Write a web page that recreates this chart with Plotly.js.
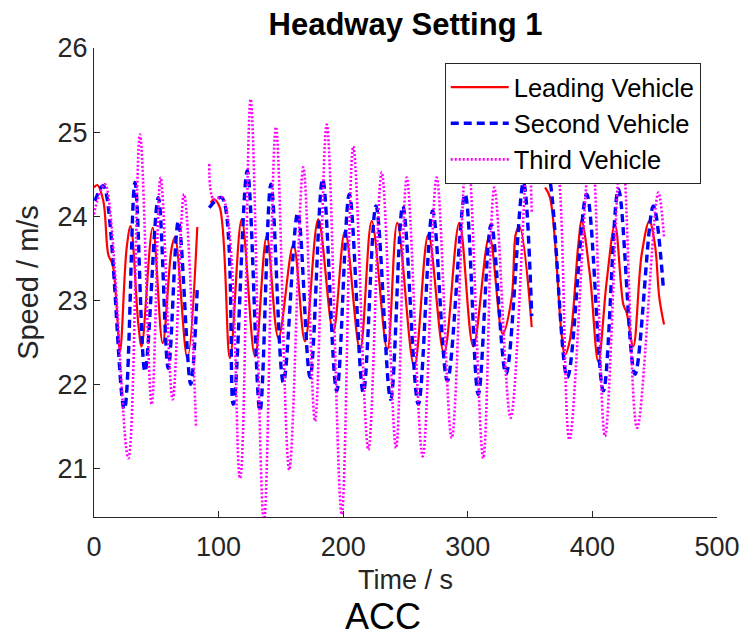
<!DOCTYPE html>
<html>
<head>
<meta charset="utf-8">
<script src="https://cdn.plot.ly/plotly-3.0.1.min.js"></script>
<style>html,body{margin:0;padding:0;background:#fff;}#chart{width:741px;height:637px;}</style>
</head>
<body>
<div id="chart"></div>
<script>
// ---- Data (time in s, speed in m/s); null = gap in recording ----
const timeLead = [0, 2.7, 7.5, 11.5, 15, 17.7, 20.9, 26.2, 29.4, 35.6, 38.2, 47.1, 55.1, 62.3, 65, 74.9, 82.9,
  null,
  93.6, 96.3, 101, 109.1, 118.5, 129.2, 138.6, 148, 160, 169.3, 180, 192, 201.4, 213.5, 222.9, 235.4, 243.4, 257, 268.3, 280.9, 293.2, 304.4, 317.3, 328, 335.2, 338.7, 341.5, 351.3,
  null,
  362, 366, 375.3, 378, 382, 388.7, 391.4, 398, 404.7, 411.5, 418.1, 424.8, 427.5, 432.8, 439.5, 445.7, 450.2, 453.7, 457.5];
const speedLead = [24.34, 24.37, 24.18, 23.54, 23.42, 23.03, 22.39, 23.62, 23.88, 22.71, 22.45, 23.86, 22.49, 23.62, 23.75, 22.31, 23.87,
  null,
  24.16, 24.2, 24.1, 22.31, 23.96, 22.33, 23.76, 22.55, 23.66, 22.51, 23.96, 22.63, 23.82, 22.41, 23.94, 22.41, 23.92, 22.21, 23.78, 22.37, 23.92, 22.45, 23.76, 22.6, 23.03, 23.8, 23.87, 22.68,
  null,
  24.34, 24.22, 22.59, 22.35, 22.53, 23.66, 23.94, 23.3, 22.27, 23.23, 23.9, 22.95, 22.85, 22.45, 23.54, 23.94, 23.66, 23.03, 22.71];

const timeSecond = [0.8, 7.5, 24.3, 32.9, 40.9, 51.6, 59.6, 67.7, 77.6, 82.9,
  null,
  92.5, 102.5, 111.8, 123, 133.2, 142, 152, 163.5, 173.4, 183.5, 194.8, 204.9, 216.1, 226.3, 238.1, 247.8, 260.3, 271.8, 283.6, 297.8, 308.4, 318.8, 330.7, 344.6, 351.3,
  null,
  362, 364.5, 379.9, 395.4, 408.8, 420.9, 434.2, 448.9, 456.9];
const speedSecond = [24.18, 24.36, 21.7, 24.4, 22.15, 24.22, 22.19, 23.94, 22.0, 23.15,
  null,
  24.1, 24.22, 21.76, 24.54, 21.68, 24.38, 22.02, 24.04, 22.08, 24.44, 21.92, 24.26, 21.9, 24.12, 21.82, 24.12, 21.76, 24.06, 22.04, 24.26, 21.88, 23.9, 22.12, 24.4, 22.81,
  null,
  24.44, 24.48, 22.08, 24.26, 21.92, 24.32, 22.12, 24.12, 23.15];

const timeThird = [0, 3, 8.8, 27.5, 36.9, 46.3, 53.5, 63.1, 72.2, 81.9,
  null,
  92.5, 96, 103, 117.2, 125.7, 136.4, 146, 156.7, 168, 177.4, 186.8, 198.8, 208.1, 220.2, 230.9, 242.4, 251, 263.8, 275, 287.1, 299.5, 312.4, 321.3, 334.4, 348.5, 351.3,
  null,
  362, 367, 372.6, 381.6, 399, 410.1, 423.5, 435.9, 452.9, 457.5];
const speedThird = [24.02, 24.2, 24.38, 21.12, 24.97, 21.76, 24.46, 21.82, 24.26, 21.48,
  null,
  24.62, 24.2, 24.22, 20.88, 25.39, 20.35, 25.06, 20.98, 24.58, 21.56, 25.09, 20.45, 24.83, 21.22, 24.52, 21.24, 24.46, 21.14, 24.46, 21.36, 24.85, 21.12, 24.34, 21.6, 24.85, 24.04,
  null,
  24.7, 24.9, 24.55, 21.34, 24.9, 21.38, 24.9, 21.48, 24.28, 23.74];

const seriesNames = ['Leading Vehicle', 'Second Vehicle', 'Third Vehicle'];
const xTicks = [0, 100, 200, 300, 400, 500];
const yTicks = [21, 22, 23, 24, 25, 26];
const chartTitle = 'Headway Setting 1';
const xTitle = 'Time / s';
const yTitle = 'Speed / m/s';
const captionText = 'ACC';

// ---- Plot ----
const FONT = 'Liberation Sans, Arial, sans-serif';
const axisCol = '#262626';

const traces = [
  {x: timeLead, y: speedLead, name: seriesNames[0], mode: 'lines', connectgaps: false,
   line: {color: '#ff0000', width: 2.2, shape: 'spline', smoothing: 1}},
  {x: timeSecond, y: speedSecond, name: seriesNames[1], mode: 'lines', connectgaps: false,
   line: {color: '#0000ff', width: 3.4, dash: '8px,5px', shape: 'spline', smoothing: 1}},
  {x: timeThird, y: speedThird, name: seriesNames[2], mode: 'lines', connectgaps: false,
   line: {color: '#ff00ff', width: 2.6, dash: '2px,2px', shape: 'spline', smoothing: 1}}
];

const layout = {
  width: 741, height: 637,
  margin: {l: 94, r: 24, t: 48, b: 120, pad: 0},
  paper_bgcolor: '#fff', plot_bgcolor: '#fff',
  font: {family: FONT, color: axisCol},
  showlegend: true,
  title: {text: '<b>' + chartTitle + '</b>', font: {family: FONT, size: 31, color: '#000'},
          x: 0.5, xref: 'paper', xanchor: 'center', y: 1 - 24 / 637, yref: 'container', yanchor: 'middle'},
  xaxis: {range: [0, 500], tickvals: xTicks, ticktext: xTicks.map(String), ticks: 'inside', ticklen: 6,
          tickcolor: axisCol, tickwidth: 1, showline: true, linecolor: axisCol, linewidth: 1, mirror: false,
          showgrid: false, zeroline: false, tickfont: {family: FONT, size: 27, color: axisCol},
          ticklabelstandoff: 6,
          title: {text: xTitle, font: {family: FONT, size: 27, color: axisCol}, standoff: 8}},
  yaxis: {range: [20.42, 26], tickvals: yTicks, ticktext: yTicks.map(String), ticks: 'inside', ticklen: 6,
          tickcolor: axisCol, tickwidth: 1, showline: true, linecolor: axisCol, linewidth: 1, mirror: false,
          showgrid: false, zeroline: false, tickfont: {family: FONT, size: 27, color: axisCol},
          title: {text: yTitle, font: {family: FONT, size: 29, color: axisCol}, standoff: 10}},
  legend: {x: 0.563, y: 0.968, xanchor: 'left', yanchor: 'top', bgcolor: '#fff', bordercolor: axisCol,
           borderwidth: 1, font: {family: FONT, size: 25.5, color: '#000'}, itemwidth: 58, tracegroupgap: 0},
  annotations: [{text: captionText, xref: 'paper', yref: 'paper', x: (383 - 94) / 623, y: (517 - 616) / 469,
                 xanchor: 'center', yanchor: 'middle', showarrow: false,
                 font: {family: FONT, size: 36, color: '#000'}}]
};

Plotly.newPlot('chart', traces, layout, {displayModeBar: false, staticPlot: true});
</script>
</body>
</html>
